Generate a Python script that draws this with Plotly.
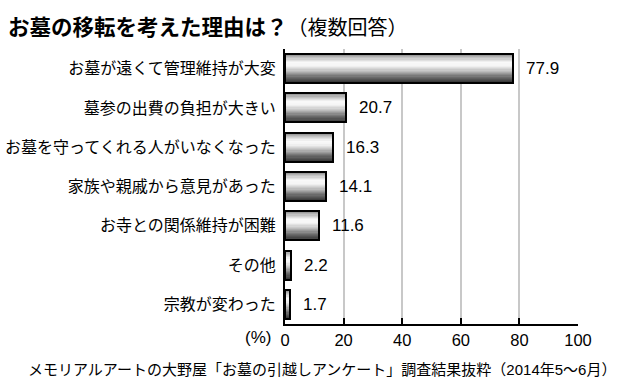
import plotly.graph_objects as go
import numpy as np

categories = [
    "お墓が遠くて管理維持が大変",
    "墓参の出費の負担が大きい",
    "お墓を守ってくれる人がいなくなった",
    "家族や親戚から意見があった",
    "お寺との関係維持が困難",
    "その他",
    "宗教が変わった",
]
values = [77.9, 20.7, 16.3, 14.1, 11.6, 2.2, 1.7]
x_ticks = [0, 20, 40, 60, 80, 100]
title_main = "お墓の移転を考えた理由は？"
title_sub = "（複数回答）"
unit_label = "(%)"
source_text = "メモリアルアートの大野屋「お墓の引越しアンケート」調査結果抜粋（2014年5～6月）"

W, H = 620, 391
ML, MR, MT, MB = 285, 42, 49, 67
PW, PH = W - ML - MR, H - MT - MB

def px_x(px):
    return (px - ML) / PW

def px_y(py):
    return (H - MB - py) / PH

CJK = "Noto Sans CJK JP"
LAT = "Liberation Sans, Arial, Noto Sans CJK JP"

BAR_W = 0.74
# vertical gradient profile (top -> bottom), gray levels
stops_t = [0.0, 0.12, 0.3, 0.42, 0.6, 0.8, 1.0]
stops_g = [125, 185, 250, 245, 190, 110, 55]
N = 24

fig = go.Figure()
step = BAR_W / N
for i in range(N):
    t = (i + 0.5) / N
    g = int(np.interp(t, stops_t, stops_g))
    fig.add_trace(go.Bar(
        y=categories, x=values, orientation="h",
        width=step * 1.5 if i < N - 1 else step,
        offset=-BAR_W / 2 + i * step,
        marker=dict(color=f"rgb({g},{g},{g})", line=dict(width=0)),
        hoverinfo="skip", showlegend=False,
    ))
fig.add_trace(go.Bar(
    y=categories, x=values, orientation="h",
    width=BAR_W, offset=-BAR_W / 2,
    marker=dict(color="rgba(0,0,0,0)", line=dict(color="black", width=2)),
    hoverinfo="skip", showlegend=False,
))

annotations = []
for c, v in zip(categories, values):
    annotations.append(dict(
        x=v, y=c, xref="x", yref="y", text=f"{v}", showarrow=False,
        xanchor="left", yanchor="middle", xshift=11,
        font=dict(family=LAT, size=17, color="black"),
    ))

annotations.append(dict(
    x=px_x(6), y=px_y(25), xref="paper", yref="paper",
    text=f"<b>{title_main}</b><span style='font-size:20px'>{title_sub}</span>",
    showarrow=False, xanchor="left", yanchor="middle",
    font=dict(family=CJK, size=21.5, color="black"),
))
annotations.append(dict(
    x=0, y=0, xref="paper", yref="paper", text=unit_label, showarrow=False,
    xanchor="right", yanchor="middle", xshift=-12, yshift=-13,
    font=dict(family=LAT, size=17, color="black"),
))
annotations.append(dict(
    x=px_x(26), y=px_y(369), xref="paper", yref="paper", text=source_text,
    showarrow=False, xanchor="left", yanchor="middle",
    font=dict(family=LAT, size=15, color="black"),
))

fig.update_layout(
    width=W, height=H,
    margin=dict(l=ML, r=MR, t=MT, b=MB, pad=0, autoexpand=False),
    paper_bgcolor="white", plot_bgcolor="white",
    barmode="overlay", bargap=0,
    showlegend=False,
    annotations=annotations,
    xaxis=dict(
        range=[0, 100], tickvals=x_ticks, ticktext=[str(t) for t in x_ticks],
        ticks="inside", ticklen=6, tickwidth=1.5, tickcolor="black",
        showline=True, linecolor="black", linewidth=2,
        showgrid=True, gridcolor="#c8c8c8", gridwidth=1.5,
        zeroline=False, fixedrange=True, automargin=False,
        tickfont=dict(family=LAT, size=16.5, color="black"),
    ),
    yaxis=dict(
        categoryorder="array", categoryarray=categories,
        autorange="reversed", ticks="", showline=True,
        linecolor="black", linewidth=2, showgrid=False, zeroline=False,
        ticklabelstandoff=4, fixedrange=True, automargin=False,
        tickfont=dict(family=CJK, size=16, color="black"),
    ),
)

fig.write_html(
    "out.html",
    config={"displayModeBar": False},
    post_script="document.body.style.margin='0';document.body.style.overflow='hidden';",
)
